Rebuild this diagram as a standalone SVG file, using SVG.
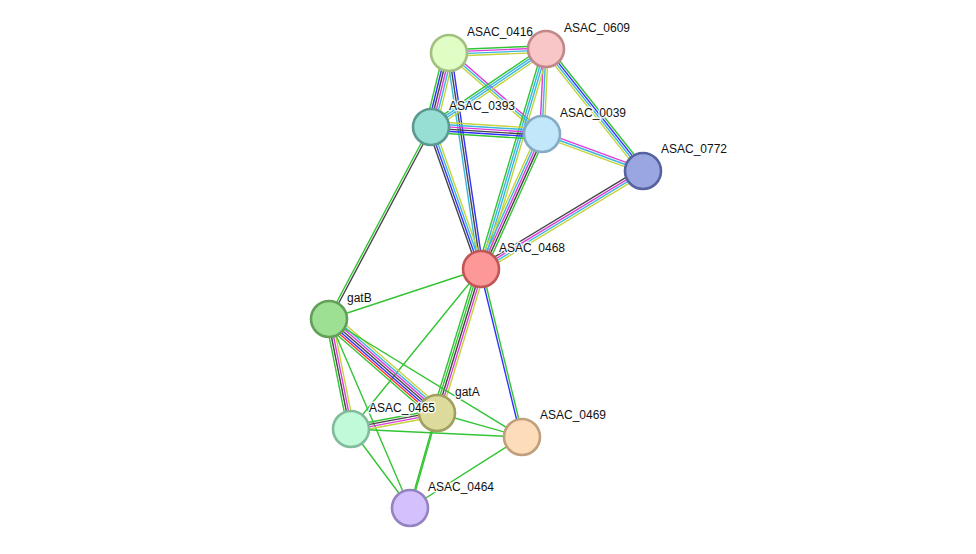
<svg xmlns="http://www.w3.org/2000/svg" width="976" height="554" viewBox="0 0 976 554">
<style>
  line { stroke-width: 1.4; fill: none; }
  .g { stroke: #33c433; }
  .r { stroke: #ff3030; }
  .b { stroke: #3030ff; }
  .k { stroke: #454545; }
  .m { stroke: #dd3cdd; }
  .c { stroke: #3cb6dc; }
  .y { stroke: #c4d43c; }
  .node circle { stroke-width: 2.6; }
  text { font-family: "Liberation Sans", Arial, sans-serif; font-size: 12px; fill: #111; stroke: #fff; stroke-width: 3px; stroke-opacity: 0.85; paint-order: stroke; stroke-linejoin: round; }
</style>
<rect width="976" height="554" fill="#fff"/>

<g id="edges">
  <!-- 0416 - 0609 -->
  <g transform="translate(449,53) rotate(-2.36)">
    <line class="g" x2="97.1" y1="-3.3" y2="-3.3"/><line class="m" x2="97.1" y1="-1.1" y2="-1.1"/>
    <line class="c" x2="97.1" y1="1.1" y2="1.1"/><line class="y" x2="97.1" y1="3.3" y2="3.3"/>
  </g>
  <!-- 0416 - 0393 -->
  <g transform="translate(449,53) rotate(103.67)">
    <line class="y" x2="76.2" y1="-5.5" y2="-5.5"/><line class="c" x2="76.2" y1="-3.3" y2="-3.3"/>
    <line class="m" x2="76.2" y1="-1.1" y2="-1.1"/><line class="k" x2="76.2" y1="1.1" y2="1.1"/>
    <line class="b" x2="76.2" y1="3.3" y2="3.3"/><line class="g" x2="76.2" y1="5.5" y2="5.5"/>
  </g>
  <!-- 0416 - 0039 -->
  <g transform="translate(449,53) rotate(41.05)">
    <line class="m" x2="123.3" y1="-2.2" y2="-2.2"/><line class="c" x2="123.3" y1="0" y2="0"/>
    <line class="y" x2="123.3" y1="2.2" y2="2.2"/>
  </g>
  <!-- 0416 - 0468 -->
  <g transform="translate(449,53) rotate(81.57)">
    <line class="b" x2="218.4" y1="-2.2" y2="-2.2"/><line class="k" x2="218.4" y1="0" y2="0"/>
    <line class="c" x2="218.4" y1="2.2" y2="2.2"/>
  </g>
  <!-- 0609 - 0393 -->
  <g transform="translate(546,49) rotate(145.85)">
    <line class="y" x2="139" y1="-3.3" y2="-3.3"/><line class="c" x2="139" y1="-1.1" y2="-1.1"/>
    <line class="c" x2="139" y1="1.1" y2="1.1"/><line class="g" x2="139" y1="3.3" y2="3.3"/>
  </g>
  <!-- 0609 - 0039 -->
  <g transform="translate(546,49) rotate(92.69)">
    <line class="y" x2="85.1" y1="-2.2" y2="-2.2"/><line class="c" x2="85.1" y1="0" y2="0"/>
    <line class="m" x2="85.1" y1="2.2" y2="2.2"/>
  </g>
  <!-- 0609 - 0772 -->
  <g transform="translate(546,49) rotate(51.51)">
    <line class="g" x2="155.9" y1="-3.3" y2="-3.3"/><line class="b" x2="155.9" y1="-1.1" y2="-1.1"/>
    <line class="c" x2="155.9" y1="1.1" y2="1.1"/><line class="y" x2="155.9" y1="3.3" y2="3.3"/>
  </g>
  <!-- 0609 - 0468 -->
  <g transform="translate(546,49) rotate(106.46)">
    <line class="y" x2="229.4" y1="-3.3" y2="-3.3"/><line class="c" x2="229.4" y1="-1.1" y2="-1.1"/>
    <line class="c" x2="229.4" y1="1.1" y2="1.1"/><line class="g" x2="229.4" y1="3.3" y2="3.3"/>
  </g>
  <!-- 0393 - 0039 -->
  <g transform="translate(431,127) rotate(3.61)">
    <line class="y" x2="111.2" y1="-5.5" y2="-5.5"/><line class="c" x2="111.2" y1="-3.3" y2="-3.3"/>
    <line class="m" x2="111.2" y1="-1.1" y2="-1.1"/><line class="k" x2="111.2" y1="1.1" y2="1.1"/>
    <line class="b" x2="111.2" y1="3.3" y2="3.3"/><line class="g" x2="111.2" y1="5.5" y2="5.5"/>
  </g>
  <!-- 0393 - 0468 -->
  <g transform="translate(431,127) rotate(70.6)">
    <line class="y" x2="150.6" y1="-3.3" y2="-3.3"/><line class="c" x2="150.6" y1="-1.1" y2="-1.1"/>
    <line class="b" x2="150.6" y1="1.1" y2="1.1"/><line class="k" x2="150.6" y1="3.3" y2="3.3"/>
  </g>
  <!-- 0393 - gatB -->
  <g transform="translate(431,127) rotate(117.98)">
    <line class="k" x2="217.4" y1="-1.1" y2="-1.1"/><line class="g" x2="217.4" y1="1.1" y2="1.1"/>
  </g>
  <!-- 0039 - 0772 -->
  <g transform="translate(542,134) rotate(20.12)">
    <line class="m" x2="107.6" y1="-2.2" y2="-2.2"/><line class="c" x2="107.6" y1="0" y2="0"/>
    <line class="y" x2="107.6" y1="2.2" y2="2.2"/>
  </g>
  <!-- 0039 - 0468 -->
  <g transform="translate(542,134) rotate(114.32)">
    <line class="g" x2="148.1" y1="-4.4" y2="-4.4"/><line class="k" x2="148.1" y1="-2.2" y2="-2.2"/>
    <line class="m" x2="148.1" y1="0" y2="0"/><line class="c" x2="148.1" y1="2.2" y2="2.2"/>
    <line class="y" x2="148.1" y1="4.4" y2="4.4"/>
  </g>
  <!-- 0772 - 0468 -->
  <g transform="translate(643,171) rotate(148.83)">
    <line class="y" x2="189.3" y1="-3.3" y2="-3.3"/><line class="c" x2="189.3" y1="-1.1" y2="-1.1"/>
    <line class="m" x2="189.3" y1="1.1" y2="1.1"/><line class="k" x2="189.3" y1="3.3" y2="3.3"/>
  </g>
  <!-- 0468 - gatB -->
  <g transform="translate(481,269) rotate(161.79)">
    <line class="g" x2="160" y1="0" y2="0"/>
  </g>
  <!-- 0468 - 0465 -->
  <g transform="translate(481,269) rotate(129.09)">
    <line class="g" x2="206.2" y1="0" y2="0"/>
  </g>
  <!-- 0468 - gatA -->
  <g transform="translate(481,269) rotate(106.99)">
    <line class="y" x2="150.6" y1="-4.4" y2="-4.4"/><line class="m" x2="150.6" y1="-2.2" y2="-2.2"/>
    <line class="k" x2="150.6" y1="0" y2="0"/><line class="g" x2="150.6" y1="2.2" y2="2.2"/>
    <line class="g" x2="150.6" y1="4.4" y2="4.4"/>
  </g>
  <!-- 0468 - 0469 -->
  <g transform="translate(481,269) rotate(76.28)">
    <line class="g" x2="172.9" y1="-1.1" y2="-1.1"/><line class="b" x2="172.9" y1="1.1" y2="1.1"/>
  </g>
  <!-- gatB - gatA -->
  <g transform="translate(329,319) rotate(41.04)">
    <line class="y" x2="143.2" y1="-6.6" y2="-6.6"/><line class="c" x2="143.2" y1="-4.4" y2="-4.4"/>
    <line class="m" x2="143.2" y1="-2.2" y2="-2.2"/><line class="k" x2="143.2" y1="0" y2="0"/>
    <line class="b" x2="143.2" y1="2.2" y2="2.2"/><line class="r" x2="143.2" y1="4.4" y2="4.4"/>
    <line class="g" x2="143.2" y1="6.6" y2="6.6"/>
  </g>
  <!-- gatB - 0465 -->
  <g transform="translate(329,319) rotate(78.69)">
    <line class="y" x2="112.2" y1="-3.3" y2="-3.3"/><line class="m" x2="112.2" y1="-1.1" y2="-1.1"/>
    <line class="k" x2="112.2" y1="1.1" y2="1.1"/><line class="g" x2="112.2" y1="3.3" y2="3.3"/>
  </g>
  <!-- gatB - 0469 -->
  <g transform="translate(329,319) rotate(31.44)">
    <line class="g" x2="226.2" y1="0" y2="0"/>
  </g>
  <!-- gatB - 0464 -->
  <g transform="translate(329,319) rotate(66.8)">
    <line class="g" x2="205.6" y1="0" y2="0"/>
  </g>
  <!-- 0465 - gatA -->
  <g transform="translate(351,429) rotate(-10.54)">
    <line class="g" x2="87.5" y1="-3.3" y2="-3.3"/><line class="k" x2="87.5" y1="-1.1" y2="-1.1"/>
    <line class="m" x2="87.5" y1="1.1" y2="1.1"/><line class="y" x2="87.5" y1="3.3" y2="3.3"/>
  </g>
  <!-- 0465 - 0469 -->
  <g transform="translate(351,429) rotate(2.68)">
    <line class="g" x2="171.2" y1="0" y2="0"/>
  </g>
  <!-- 0465 - 0464 -->
  <g transform="translate(351,429) rotate(53.25)">
    <line class="g" x2="98.6" y1="0" y2="0"/>
  </g>
  <!-- gatA - 0469 -->
  <g transform="translate(437,413) rotate(15.77)">
    <line class="g" x2="88.3" y1="0" y2="0"/>
  </g>
  <!-- gatA - 0464 -->
  <g transform="translate(437,413) rotate(105.87)">
    <line class="g" x2="98.8" y1="-0.6" y2="-0.6"/><line class="g" x2="98.8" y1="0.6" y2="0.6"/>
  </g>
  <!-- 0469 - 0464 -->
  <g transform="translate(522,437) rotate(147.63)">
    <line class="g" x2="132.6" y1="0" y2="0"/>
  </g>
</g>

<g id="n-ASAC_0416" class="node"><circle cx="449" cy="53" r="18" fill="#dffdc4" stroke="#a2c17f"/><text x="467" y="36">ASAC_0416</text></g>
<g id="n-ASAC_0609" class="node"><circle cx="546" cy="49" r="18" fill="#f8c6c6" stroke="#c08888"/><text x="564" y="32">ASAC_0609</text></g>
<g id="n-ASAC_0393" class="node"><circle cx="431" cy="127" r="18" fill="#97dfd5" stroke="#5b9a91"/><text x="449" y="110">ASAC_0393</text></g>
<g id="n-ASAC_0039" class="node"><circle cx="542" cy="134" r="18" fill="#c2e7fb" stroke="#85abc5"/><text x="560" y="117">ASAC_0039</text></g>
<g id="n-ASAC_0772" class="node"><circle cx="643" cy="171" r="18" fill="#99a6df" stroke="#5762a1"/><text x="661" y="153">ASAC_0772</text></g>
<g id="n-ASAC_0468" class="node"><circle cx="481" cy="269" r="18" fill="#fd9898" stroke="#c05656"/><text x="499" y="252">ASAC_0468</text></g>
<g id="n-gatB" class="node"><circle cx="329" cy="319" r="18" fill="#9ee093" stroke="#62a058"/><text x="347" y="302">gatB</text></g>
<g id="n-gatA" class="node"><circle cx="437" cy="413" r="18" fill="#dddb9c" stroke="#a0a060"/><text x="455" y="396">gatA</text></g>
<g id="n-ASAC_0465" class="node"><circle cx="351" cy="429" r="18" fill="#c1fad9" stroke="#82bb9b"/><text x="369" y="412">ASAC_0465</text></g>
<g id="n-ASAC_0469" class="node"><circle cx="522" cy="437" r="18" fill="#fddcba" stroke="#c09f7c"/><text x="540" y="419">ASAC_0469</text></g>
<g id="n-ASAC_0464" class="node"><circle cx="410" cy="508" r="18" fill="#d2c1fc" stroke="#9583c1"/><text x="428" y="491">ASAC_0464</text></g>
</svg>
